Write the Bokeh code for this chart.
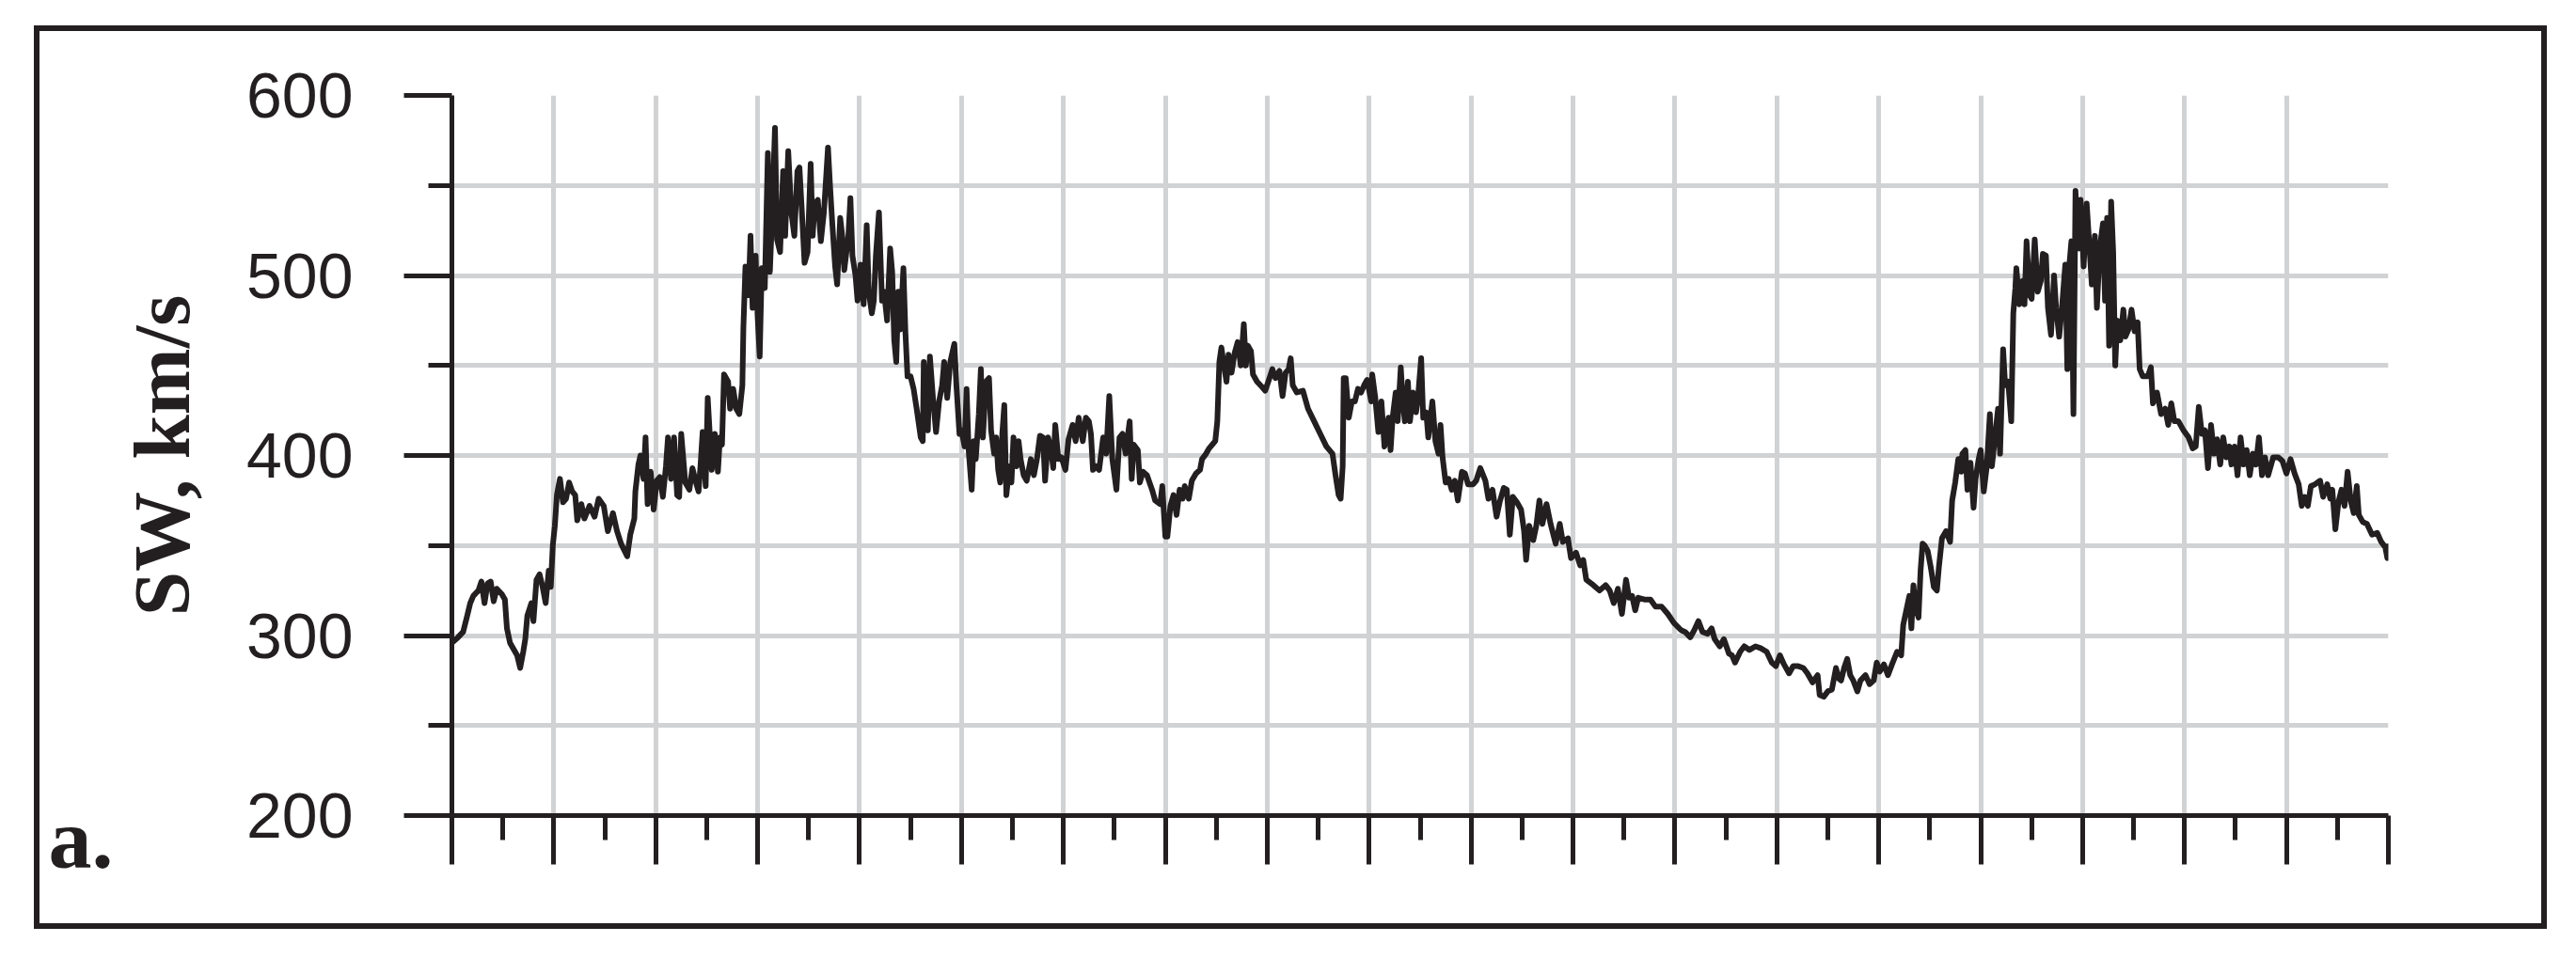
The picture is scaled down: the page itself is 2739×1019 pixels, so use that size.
from bokeh.plotting import figure
from bokeh.models import Range1d, FixedTicker, LinearAxis
from bokeh.embed import file_html
from bokeh.resources import INLINE

# ---- data: time (days from start of window) and solar-wind speed, km/s ----
seg1_t = [0.00, 0.06, 0.11, 0.15, 0.18, 0.21, 0.26, 0.29, 0.32, 0.35,
          0.38, 0.41, 0.44, 0.49, 0.52, 0.54, 0.57, 0.60, 0.64, 0.67,
          0.70, 0.72, 0.74, 0.78, 0.80, 0.83, 0.86, 0.89, 0.92, 0.95,
          0.97, 0.99, 1.01, 1.03, 1.06, 1.09, 1.12, 1.15, 1.18, 1.21,
          1.23, 1.27, 1.30, 1.35, 1.40, 1.44, 1.49, 1.53, 1.58, 1.62,
          1.66, 1.72, 1.75, 1.79, 1.80, 1.83, 1.85, 1.88, 1.90, 1.92,
          1.95, 1.98, 2.01, 2.04, 2.07, 2.10, 2.12, 2.15, 2.18, 2.21,
          2.23, 2.25, 2.29, 2.33, 2.36, 2.39, 2.42, 2.44, 2.46, 2.49,
          2.51, 2.53, 2.55, 2.58, 2.61, 2.63, 2.65, 2.67, 2.71, 2.73,
          2.76, 2.79, 2.82, 2.85, 2.86, 2.88, 2.91, 2.93, 2.95, 2.98,
          3.00, 3.02, 3.04, 3.07, 3.10, 3.12, 3.14]
seg1_v = [296, 299, 302, 311, 318, 322, 325, 330, 318, 329,
          330, 319, 326, 323, 320, 304, 296, 293, 289, 282,
          291, 298, 311, 318, 308, 331, 334, 327, 318, 336,
          327, 350, 361, 378, 387, 374, 376, 385, 380, 378,
          364, 373, 365, 372, 366, 376, 372, 358, 368, 358,
          351, 344, 356, 365, 380, 395, 400, 387, 410, 373,
          391, 370, 386, 388, 377, 394, 410, 387, 410, 378,
          377, 412, 385, 381, 393, 386, 380, 395, 413, 383,
          432, 412, 392, 412, 391, 410, 406, 445, 441, 426,
          437, 426, 423, 439, 471, 505, 489, 522, 482, 511,
          477, 455, 504, 493, 568, 502, 531]

seg2_t = [3.17, 3.19, 3.22, 3.25, 3.27, 3.30, 3.33, 3.36, 3.39, 3.41,
          3.44, 3.46, 3.49, 3.52, 3.54, 3.56, 3.59, 3.62, 3.65, 3.69,
          3.71, 3.73, 3.76, 3.78, 3.81, 3.83, 3.85, 3.89, 3.91, 3.93,
          3.96, 3.98, 4.01, 4.04, 4.07, 4.09, 4.12, 4.14, 4.16, 4.19,
          4.22, 4.24, 4.27, 4.30, 4.32, 4.34, 4.36, 4.38, 4.40, 4.43,
          4.45, 4.47, 4.50, 4.53, 4.56, 4.60, 4.62, 4.63, 4.66, 4.67,
          4.69, 4.72, 4.75, 4.78, 4.81, 4.83, 4.86, 4.89, 4.93, 4.95,
          4.98, 5.00, 5.03, 5.05, 5.07, 5.10, 5.12, 5.14, 5.17, 5.19,
          5.21, 5.24, 5.27, 5.29, 5.32, 5.34, 5.36, 5.38, 5.40, 5.42,
          5.44, 5.47, 5.49, 5.51, 5.54, 5.56, 5.58, 5.61, 5.64, 5.68,
          5.71, 5.74, 5.77, 5.80, 5.82, 5.85, 5.88, 5.90, 5.92, 5.95,
          5.98, 6.02, 6.05, 6.09, 6.12, 6.15, 6.19, 6.22, 6.25, 6.27,
          6.29, 6.32, 6.35, 6.39, 6.42]
seg2_v = [582, 520, 513, 558, 522, 569, 535, 522, 558, 560,
          529, 507, 513, 562, 522, 540, 542, 519, 535, 571,
          550, 531, 505, 495, 532, 522, 503, 522, 543, 511,
          500, 486, 506, 484, 528, 491, 479, 486, 511, 535,
          486, 491, 475, 515, 502, 464, 452, 491, 470, 504,
          468, 444, 444, 437, 426, 410, 408, 452, 423, 414,
          455, 432, 413, 430, 439, 452, 432, 452, 462, 439,
          412, 414, 405, 437, 403, 381, 408, 398, 423, 448,
          410, 441, 443, 414, 401, 410, 392, 385, 412, 428,
          378, 394, 385, 410, 394, 408, 398, 389, 386, 398,
          389, 398, 411, 410, 386, 410, 403, 393, 417, 398,
          399, 392, 409, 417, 408, 421, 408, 421, 419, 412,
          392, 394, 392, 410, 401]

seg3_t = [6.45, 6.48, 6.52, 6.55, 6.58, 6.61, 6.65, 6.67, 6.69, 6.73,
          6.75, 6.78, 6.82, 6.87, 6.90, 6.95, 6.97, 7.00, 7.02, 7.05,
          7.08, 7.11, 7.14, 7.17, 7.19, 7.23, 7.26, 7.30, 7.34, 7.36,
          7.40, 7.43, 7.46, 7.49, 7.51, 7.53, 7.55, 7.57, 7.60, 7.62,
          7.65, 7.68, 7.71, 7.74, 7.77, 7.79, 7.81, 7.84, 7.86, 7.90,
          7.95, 7.98, 8.01, 8.05, 8.08, 8.12, 8.15, 8.18, 8.21, 8.23,
          8.25, 8.29, 8.35, 8.40, 8.46, 8.52, 8.58, 8.64, 8.67, 8.70,
          8.72, 8.74, 8.75, 8.77, 8.80, 8.83, 8.86, 8.89, 8.92, 8.95,
          8.98, 9.02, 9.03, 9.06, 9.09, 9.12, 9.15, 9.19, 9.21, 9.23,
          9.26, 9.28, 9.31, 9.33, 9.35, 9.38, 9.40, 9.43, 9.46, 9.48,
          9.51, 9.53, 9.56, 9.58, 9.62]
seg3_v = [433, 398, 381, 410, 412, 401, 419, 387, 406, 403,
          385, 391, 389, 381, 375, 373, 383, 355, 355, 372,
          378, 367, 381, 376, 383, 376, 386, 390, 392, 398,
          401, 404, 406, 408, 419, 452, 460, 452, 441, 456,
          446, 457, 463, 450, 473, 450, 461, 458, 445, 441,
          438, 436, 441, 448, 443, 447, 433, 446, 448, 454,
          439, 435, 436, 426, 419, 412, 405, 401, 389, 378,
          376, 394, 443, 443, 421, 430, 430, 437, 435, 439,
          442, 430, 445, 432, 413, 430, 405, 421, 403, 421,
          435, 419, 449, 430, 419, 441, 419, 435, 424, 433,
          454, 421, 424, 410, 430]

seg4_t = [9.65, 9.68, 9.70, 9.72, 9.75, 9.78, 9.81, 9.84, 9.87, 9.91,
          9.94, 9.97, 10.02, 10.05, 10.09, 10.14, 10.17, 10.21, 10.25, 10.28,
          10.32, 10.35, 10.38, 10.41, 10.45, 10.49, 10.52, 10.54, 10.57, 10.61,
          10.64, 10.67, 10.70, 10.74, 10.78, 10.83, 10.87, 10.90, 10.95, 10.98,
          11.03, 11.07, 11.10, 11.13, 11.20, 11.26, 11.32, 11.36, 11.40, 11.44,
          11.48, 11.52, 11.55, 11.58, 11.61, 11.64, 11.70, 11.76, 11.81, 11.87,
          11.93, 11.99, 12.06, 12.10, 12.15, 12.19, 12.23, 12.27, 12.32, 12.36,
          12.39, 12.44, 12.48, 12.53, 12.56, 12.59, 12.64, 12.68, 12.73, 12.79]
seg4_v = [408, 401, 417, 399, 385, 387, 381, 386, 375, 391,
          390, 384, 384, 386, 393, 386, 376, 381, 366, 374,
          382, 381, 356, 377, 374, 370, 358, 342, 361, 353,
          361, 375, 362, 373, 362, 351, 362, 352, 354, 343,
          346, 339, 342, 331, 328, 325, 328, 325, 318, 326,
          312, 331, 321, 322, 314, 321, 320, 320, 316, 316,
          312, 307, 303, 302, 299, 303, 308, 302, 301, 304,
          298, 294, 298, 290, 289, 285, 291, 294, 292, 294]

seg5_t = [12.84, 12.90, 12.95, 12.99, 13.03, 13.07, 13.12, 13.16, 13.21, 13.26,
          13.30, 13.35, 13.40, 13.42, 13.46, 13.50, 13.54, 13.58, 13.61, 13.63,
          13.66, 13.69, 13.72, 13.75, 13.79, 13.82, 13.87, 13.91, 13.95, 13.98,
          14.01, 14.05, 14.09, 14.13, 14.18, 14.22, 14.24, 14.27, 14.30, 14.32,
          14.34, 14.36, 14.39, 14.41, 14.43, 14.45, 14.48, 14.51, 14.54, 14.57,
          14.59, 14.62, 14.66, 14.70, 14.72, 14.75, 14.78, 14.81, 14.82, 14.85,
          14.87, 14.90, 14.93, 14.95, 14.98, 15.00, 15.03, 15.06, 15.09, 15.11,
          15.14, 15.17, 15.19, 15.22, 15.24, 15.27, 15.30, 15.32, 15.34, 15.35,
          15.38, 15.41, 15.43, 15.45, 15.48, 15.50, 15.53, 15.56, 15.59, 15.61,
          15.64, 15.66, 15.69, 15.72, 15.74, 15.77, 15.80, 15.83, 15.85, 15.87,
          15.89, 15.91, 15.93, 15.96, 15.98, 16.01, 16.04]
seg5_v = [293, 291, 285, 283, 289, 284, 279, 283, 283, 282,
          279, 274, 278, 267, 266, 269, 270, 282, 276, 275,
          282, 287, 278, 275, 269, 275, 278, 273, 275, 285,
          280, 284, 278, 284, 291, 289, 306, 314, 322, 304,
          328, 316, 310, 336, 351, 350, 347, 338, 327, 325,
          338, 354, 358, 352, 375, 385, 398, 391, 401, 403,
          381, 396, 371, 387, 398, 403, 380, 394, 423, 394,
          410, 426, 401, 459, 439, 441, 419, 479, 493, 504,
          484, 497, 484, 519, 489, 487, 520, 491, 497, 512,
          511, 482, 467, 500, 482, 466, 484, 506, 448, 506,
          519, 423, 547, 515, 542, 505, 540]

seg6_t = [16.09, 16.12, 16.14, 16.17, 16.20, 16.22, 16.24, 16.26, 16.28, 16.30,
          16.32, 16.34, 16.37, 16.40, 16.42, 16.45, 16.48, 16.51, 16.54, 16.56,
          16.59, 16.64, 16.67, 16.69, 16.73, 16.77, 16.81, 16.84, 16.87, 16.90,
          16.94, 16.99, 17.04, 17.08, 17.11, 17.14, 17.17, 17.20, 17.23, 17.26,
          17.29, 17.32, 17.35, 17.38, 17.41, 17.44, 17.46, 17.49, 17.52, 17.55,
          17.58, 17.61, 17.64, 17.67, 17.70, 17.73, 17.76, 17.79, 17.82, 17.87,
          17.92, 17.96, 18.00, 18.04, 18.08, 18.12, 18.15, 18.18, 18.21, 18.24,
          18.28, 18.33, 18.36, 18.40, 18.43, 18.45, 18.48, 18.51, 18.54, 18.57,
          18.60, 18.63, 18.66, 18.69, 18.71, 18.75, 18.79, 18.84, 18.89, 18.93,
          18.97, 18.99, 19.00]
seg6_v = [495, 522, 482, 516, 529, 486, 532, 461, 541, 513,
          450, 475, 464, 481, 466, 470, 481, 469, 474, 448,
          444, 444, 449, 429, 435, 423, 426, 417, 429, 419,
          419, 414, 410, 404, 405, 427, 412, 414, 393, 417,
          401, 409, 395, 410, 399, 405, 395, 405, 389, 410,
          395, 403, 389, 401, 395, 410, 389, 399, 389, 399,
          399, 397, 390, 398, 390, 384, 372, 377, 372, 383,
          384, 386, 377, 384, 376, 381, 359, 374, 381, 372,
          391, 375, 368, 383, 367, 363, 362, 356, 357, 352,
          349, 343, 351]

# axis ticks and texts
x_major_ticks = list(range(0, 20))
x_minor_ticks = [i + 0.5 for i in range(0, 19)]
y_major_ticks = [200, 300, 400, 500, 600]
y_minor_ticks = [250, 350, 450, 550]
y_grid_ticks = [200, 250, 300, 350, 400, 450, 500, 550, 600]
y_axis_title = "SW, km/s"
panel_tag = "a."
panel_tag_at = 200   # tag sits level with the bottom of the axis

segments_t = [seg1_t, seg2_t, seg3_t, seg4_t, seg5_t, seg6_t]
segments_v = [seg1_v, seg2_v, seg3_v, seg4_v, seg5_v, seg6_v]
time_days, sw_speed = [], []
for k, (ts, vs) in enumerate(zip(segments_t, segments_v)):
    assert len(ts) == len(vs), (k, len(ts), len(vs))
    time_days += ts
    sw_speed += vs

INK = "#231f20"
GRID = "#d1d2d4"

p = figure(width=2660, height=949,
           x_range=Range1d(0, 19), y_range=Range1d(200, 600),
           output_backend="svg", toolbar_location=None,
           min_border_left=438, min_border_right=163,
           min_border_top=68, min_border_bottom=115)
p.styles = {"position": "relative", "left": "42px", "top": "33px",
            "outline": "6px solid " + INK}
p.background_fill_color = "white"
p.border_fill_color = "white"
p.outline_line_color = None

# grid
p.xgrid.ticker = FixedTicker(ticks=x_major_ticks)
p.ygrid.ticker = FixedTicker(ticks=y_grid_ticks)
for g in (p.xgrid, p.ygrid):
    g.grid_line_color = GRID
    g.grid_line_width = 5

# x axis: ticks only
xa = p.xaxis[0]
xa.ticker = FixedTicker(ticks=x_major_ticks, minor_ticks=x_minor_ticks)
xa.major_label_overrides = {t: "" for t in x_major_ticks}
xa.major_label_text_font_size = "1px"
xa.major_label_standoff = 0
xa.axis_line_color = INK
xa.axis_line_width = 5
xa.major_tick_line_color = INK
xa.major_tick_line_width = 5
xa.minor_tick_line_color = INK
xa.minor_tick_line_width = 5
xa.major_tick_in = 0
xa.major_tick_out = 52
xa.minor_tick_in = 0
xa.minor_tick_out = 26

ya = p.yaxis[0]
ya.ticker = FixedTicker(ticks=y_major_ticks, minor_ticks=y_minor_ticks)
ya.axis_line_color = INK
ya.axis_line_width = 5
ya.major_tick_line_color = INK
ya.major_tick_line_width = 5
ya.minor_tick_line_color = INK
ya.minor_tick_line_width = 5
ya.major_tick_in = 0
ya.major_tick_out = 51
ya.minor_tick_in = 0
ya.minor_tick_out = 25
ya.major_label_text_font = "Liberation Sans"
ya.major_label_text_font_size = "68px"
ya.major_label_text_color = INK
ya.major_label_standoff = 54
ya.axis_label = y_axis_title
ya.axis_label_text_font = "Liberation Serif"
ya.axis_label_text_font_style = "bold"
ya.axis_label_text_font_size = "85px"
ya.axis_label_text_color = INK
ya.axis_label_standoff = 40

# panel tag "a." as the single label of an outer, line-less left axis;
# the leading empty line drops it just below the level of the x axis
tag_axis = LinearAxis(ticker=FixedTicker(ticks=[panel_tag_at]),
                      major_label_overrides={panel_tag_at: "\n" + panel_tag},
                      axis_line_color=None, major_tick_line_color=None,
                      minor_tick_line_color=None,
                      major_tick_in=0, major_tick_out=0,
                      major_label_standoff=2,
                      major_label_text_font="Liberation Serif",
                      major_label_text_font_style="bold",
                      major_label_text_font_size="92px",
                      major_label_text_line_height=0.48,
                      major_label_text_color=INK)
p.add_layout(tag_axis, "left")

p.line(time_days, sw_speed, line_color=INK, line_width=6, line_join="round")

open("out.html", "w").write(file_html(p, INLINE))
